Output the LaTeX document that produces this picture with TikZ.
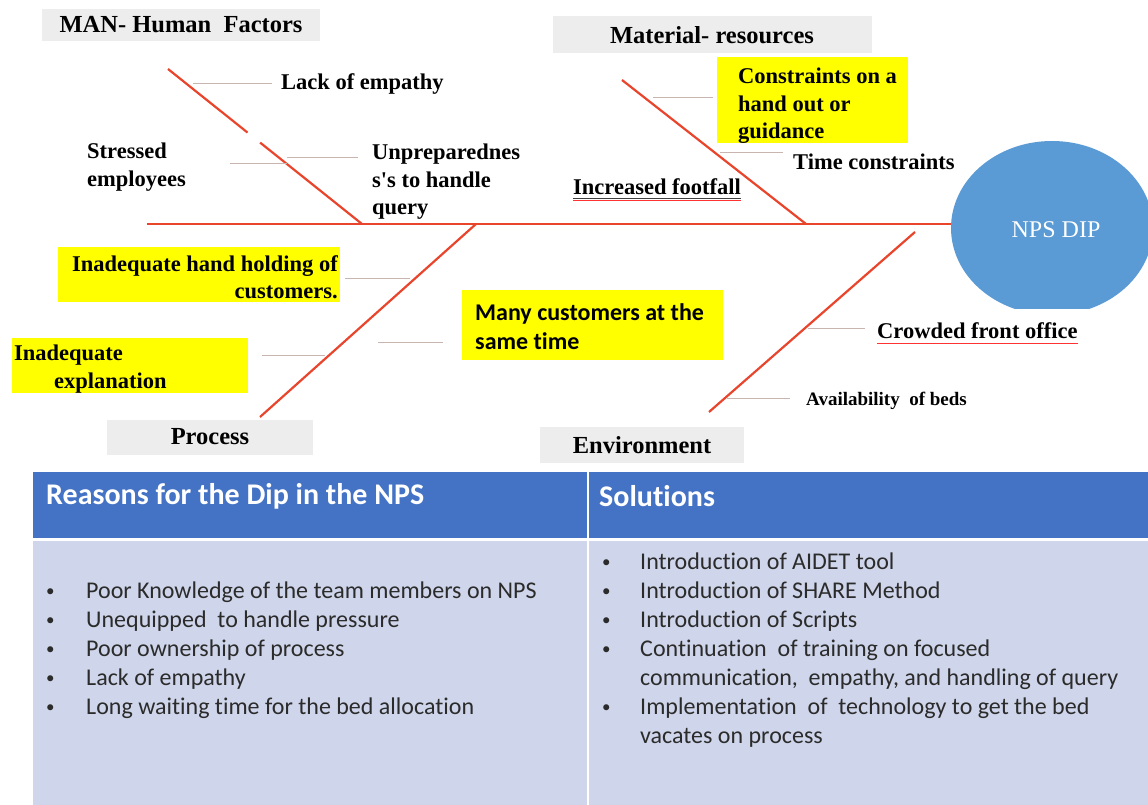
\documentclass[tikz,border=0pt]{standalone}
\usepackage{fontspec}
\setmainfont{Liberation Serif}
\newfontfamily\calfont{Carlito}[Ligatures=NoCommon]
\usetikzlibrary{calc,shapes.geometric}
\definecolor{bonered}{HTML}{E8452C}
\definecolor{twig}{HTML}{C9B5B0}
\definecolor{boxgray}{HTML}{EDEDED}
\definecolor{hiyellow}{HTML}{FFFF00}
\definecolor{npsblue}{HTML}{5B9BD5}
\definecolor{hdrblue}{HTML}{4472C4}
\definecolor{bodylav}{HTML}{CFD5EA}
\definecolor{bodytext}{HTML}{2B2B2B}
\newcommand{\smallbul}{\raisebox{2pt}{\fontsize{17}{17}\selectfont\textbullet}}
\tikzset{
  bone/.style={draw=bonered, line width=2.2pt},
  spine/.style={draw=bonered, line width=2.8pt},
  twigline/.style={draw=twig, line width=1pt},
  lbl/.style={font=\bfseries\fontsize{22.5}{27.5}\selectfont, inner sep=0pt, align=left},
  cat/.style={fill=boxgray, font=\bfseries\fontsize{24.5}{28}\selectfont, inner sep=0pt},
  hl/.style={fill=hiyellow, inner sep=0pt, anchor=north west},
  cell/.style={inner sep=0pt, anchor=north west},
  bul/.style={font=\calfont\fontsize{24}{29}\selectfont, text=bodytext, inner sep=0pt, anchor=base west},
  hdr/.style={font=\calfont\bfseries\fontsize{30}{36}\selectfont, text=white, inner sep=0pt, anchor=west},
}
\begin{document}
\begin{tikzpicture}[x=1pt,y=-1pt]
\useasboundingbox (0,0) rectangle (1148,805);
\fill[white] (0,0) rectangle (1148,805);

% category boxes
\node[cat, minimum width=278pt, minimum height=32pt] (man) at (181,25) {MAN- Human\ \ Factors};
\node[cat, minimum width=319pt, minimum height=37pt] (mat) at (712,35) {Material- resources};
\node[cat, minimum width=206pt, minimum height=35pt] (pro) at (210,437) {Process};
\node[cat, minimum width=204pt, minimum height=36pt] (env) at (642,445) {Environment};

% yellow highlight boxes
\node[hl, minimum width=191pt, minimum height=86pt] (consbox) at (717,57) {};
\node[hl, minimum width=282pt, minimum height=55pt] (handbox) at (58,247) {};
\node[hl, minimum width=236pt, minimum height=55pt] (explbox) at (12,338) {};
\node[hl, minimum width=261pt, minimum height=70pt] (manybox) at (462,290) {};

% NPS head
\node[ellipse, minimum width=202pt, minimum height=174pt, inner sep=0pt] (npsshape) at (1052,228) {};
\begin{scope}
  \clip (930,120) rectangle (1148,308);
  \fill[npsblue] (1052,228) ellipse [x radius=101, y radius=87];
\end{scope}
\node[inner sep=0pt, text=white, font=\fontsize{24}{28}\selectfont] (nps) at (1056,230) {NPS DIP};

% spine
\coordinate (tail) at (147,224);
\draw[spine] (tail) -- (tail -| npsshape.west);

% bones
\coordinate (manT) at (168,69);  \coordinate (manJ) at (362,224);
\coordinate (matT) at (622,80);  \coordinate (matJ) at (806,224);
\coordinate (proT) at (260,417); \coordinate (proJ) at (476,224);
\coordinate (envT) at (709,412); \coordinate (envJ) at (915,232);
\draw[bone] (manT) -- ($(manT)!0.41!(manJ)$);
\draw[bone] ($(manT)!0.475!(manJ)$) -- (manJ);
\draw[bone] (matT) -- (matJ);
\draw[bone] (proT) -- (proJ);
\draw[bone] (envT) -- (envJ);

% labels
\node[lbl, anchor=west] (lack) at (281,84) {Lack of empathy};
\node[lbl, anchor=west] (stress) at (87,167) {Stressed\\employees};
\node[lbl, anchor=west] (unprep) at (372,182) {Unpreparednes\\s\textquotesingle s to handle\\query};
\node[lbl, anchor=north west] (cons) at (738,68) {Constraints on a\\hand out or\\guidance};
\node[lbl, anchor=west] (time) at (793,162) {Time constraints};
\node[lbl, anchor=west] (foot) at (573,187) {Increased footfall};
\node[lbl, anchor=east, align=right] (hand) at (338,277) {Inadequate hand holding of\\customers.};
\node[lbl, anchor=west] (expl) at (14,369) {Inadequate\\\hspace*{40pt}explanation};
\node[anchor=west, align=left, inner sep=0pt, font=\calfont\bfseries\fontsize{24}{29}\selectfont] (many) at (475,327) {Many customers at the\\same time};
\node[lbl, anchor=west] (crowd) at (877,331) {Crowded front office};
\node[lbl, anchor=west, font=\bfseries\fontsize{19}{23}\selectfont] (avail) at (806,401) {Availability\ \ of beds};

% underlines (spell-check marks)
\draw[black!75, line width=0.9pt] ($(foot.south west)+(0,3)$) -- ($(foot.south east)+(0,3)$);
\draw[red!80, line width=0.8pt] ($(foot.south west)+(0,5.5)$) -- ($(foot.south east)+(0,5.5)$);
\draw[red!80, line width=0.8pt] ($(crowd.south west)+(0,4)$) -- ($(crowd.south east)+(0,4)$);

% twigs
\coordinate (t1) at (193,84);
\draw[twigline, shorten >=9pt] (t1) -- (lack.west);
\coordinate (t2a) at (230,164); \coordinate (t2b) at (287,164);
\draw[twigline] (t2a) -- (t2b);
\coordinate (t3) at (287,158);
\draw[twigline, shorten >=14pt] (t3) -- (t3 -| unprep.west);
\coordinate (t4) at (653,98);
\draw[twigline, shorten >=4pt] (t4) -- (t4 -| consbox.west);
\coordinate (t5) at (720,153);
\draw[twigline, shorten >=10pt] (t5) -- (t5 -| time.west);
\coordinate (t6) at (410,278);
\draw[twigline, shorten >=5pt] (t6) -- (t6 -| handbox.east);
\coordinate (t7) at (325,355);
\draw[twigline, shorten >=14pt] (t7) -- (t7 -| explbox.east);
\coordinate (t8) at (378,342);
\draw[twigline, shorten >=19pt] (t8) -- (t8 -| manybox.west);
\coordinate (t9) at (808,328);
\draw[twigline, shorten >=12pt] (t9) -- (t9 -| crowd.west);
\coordinate (t10) at (727,398);
\draw[twigline, shorten >=16pt] (t10) -- (t10 -| avail.west);

% table
\node[cell, fill=hdrblue, minimum width=554pt, minimum height=66pt] (hL) at (33,472) {};
\node[cell, fill=hdrblue, minimum width=559pt, minimum height=66pt] (hR) at (589,472) {};
\node[cell, fill=bodylav, minimum width=554pt, minimum height=264pt] (bL) at (33,541) {};
\node[cell, fill=bodylav, minimum width=559pt, minimum height=264pt] (bR) at (589,541) {};
\node[hdr] (hLt) at (46,496) {Reasons for the Dip in the NPS};
\node[hdr] (hRt) at (599,496) {Solutions};

\node[bul] (reasons) at (46,598) {\begin{tabular}[t]{@{}p{40pt}@{}l@{}}
\smallbul & Poor Knowledge of the team members on NPS\\
\smallbul & Unequipped\ \ to handle pressure\\
\smallbul & Poor ownership of process\\
\smallbul & Lack of empathy\\
\smallbul & Long waiting time for the bed allocation
\end{tabular}};
\node[bul] (solutions) at (602,569) {\begin{tabular}[t]{@{}p{38pt}@{}l@{}}
\smallbul & Introduction of AIDET tool\\
\smallbul & Introduction of SHARE Method\\
\smallbul & Introduction of Scripts\\
\smallbul & Continuation\ \ of training on focused\\
 & communication,\ \ empathy, and handling of query\\
\smallbul & Implementation\ \ of\ \ technology to get the bed\\
 & vacates on process
\end{tabular}};
\end{tikzpicture}
\end{document}
